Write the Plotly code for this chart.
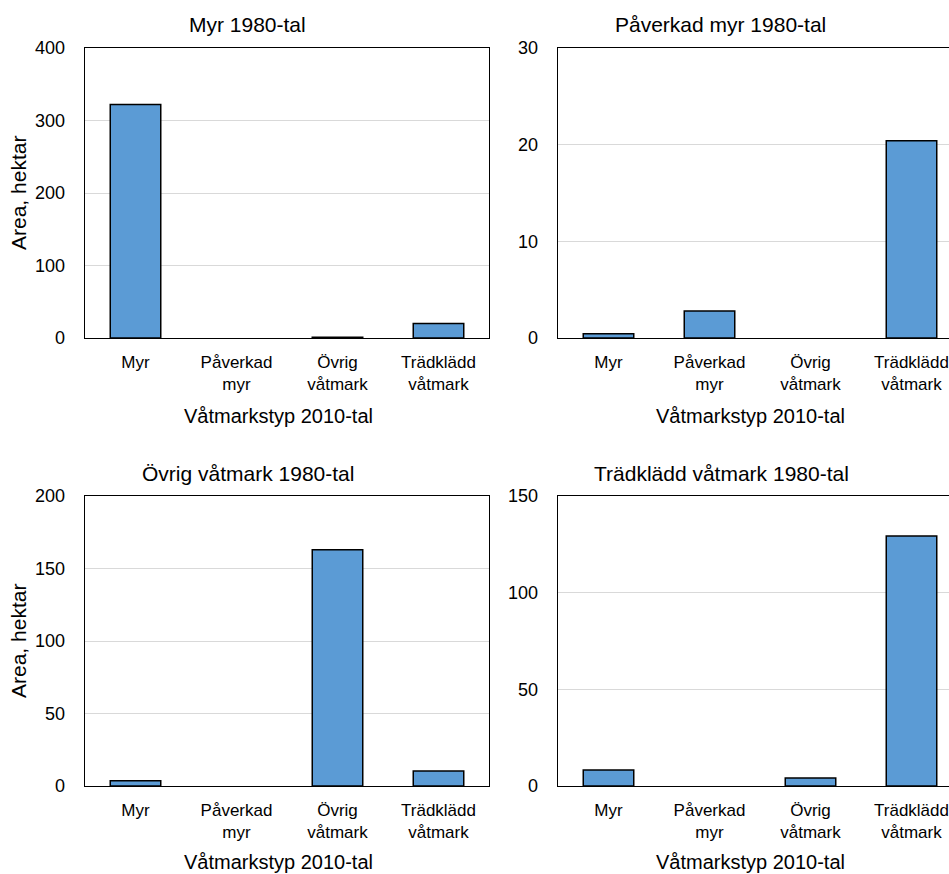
import plotly.graph_objects as go

categories = ["Myr", "Påverkad<br>myr", "Övrig<br>våtmark", "Trädklädd<br>våtmark"]
titles = ["Myr 1980-tal", "Påverkad myr 1980-tal", "Övrig våtmark 1980-tal", "Trädklädd våtmark 1980-tal"]
myr_1980 = [322, 0, 1, 20]
paverkad_myr_1980 = [0.45, 2.8, 0, 20.4]
ovrig_vatmark_1980 = [3.7, 0, 163, 10.3]
tradkladd_vatmark_1980 = [8.3, 0, 4.1, 129.3]
y_max = [400, 30, 200, 150]
y_dtick = [100, 10, 50, 50]
x_title = "Våtmarkstyp 2010-tal"
y_title = "Area, hektar"

series = [myr_1980, paverkad_myr_1980, ovrig_vatmark_1980, tradkladd_vatmark_1980]

W, H = 949, 874
FONT = "Liberation Sans, Arial, sans-serif"

# pixel layout of the four plot areas: (left, right, top, bottom)
boxes = [(85, 489, 48, 338), (558, 949, 48, 338), (85, 489, 496, 786), (558, 949, 496, 786)]
cat_w = (489 - 85) / 4.0

fig = go.Figure()
layout = dict(
    width=W, height=H, margin=dict(l=0, r=0, t=0, b=0, autoexpand=False),
    paper_bgcolor="white", plot_bgcolor="white", showlegend=False,
    font=dict(family=FONT, color="#000000"),
)

annotations = []
for i, (vals, box) in enumerate(zip(series, boxes)):
    n = i + 1
    xa = "x" if n == 1 else f"x{n}"
    ya = "y" if n == 1 else f"y{n}"
    fig.add_trace(go.Bar(
        x=categories, y=[v if v != 0 else None for v in vals], xaxis=xa, yaxis=ya, width=0.5,
        marker=dict(color="#5b9bd5", line=dict(color="#000000", width=1.5)),
        hoverinfo="skip",
    ))
    l, r, t, b = box
    right_side = i % 2 == 1
    x_end = -0.5 + (r - l) / cat_w
    layout["xaxis" if n == 1 else f"xaxis{n}"] = dict(
        domain=[l / W, r / W], anchor=ya, range=[-0.5, x_end],
        type="category", showline=True, linecolor="#000000", linewidth=1.3,
        mirror=True, showgrid=False, ticks="", ticklabelstandoff=8,
        tickfont=dict(size=17, family=FONT), fixedrange=True, automargin=False,
    )
    layout["yaxis" if n == 1 else f"yaxis{n}"] = dict(
        domain=[1 - b / H, 1 - t / H], anchor=xa, range=[0, y_max[i]],
        dtick=y_dtick[i], tick0=0, showline=True, linecolor="#000000", linewidth=1.3,
        mirror=not right_side, showgrid=True, gridcolor="#d9d9d9", gridwidth=1,
        zeroline=False, ticks="", ticklabelstandoff=15,
        tickfont=dict(size=18, family=FONT), fixedrange=True, automargin=False,
    )

title_pos = [(247, 24), (720, 24), (248, 473), (721, 473)]
xt_pos = [(278, 416), (750, 416), (278, 862), (750, 862)]
for i in range(4):
    tx, ty = title_pos[i]
    annotations.append(dict(text=titles[i], x=tx / W, y=1 - ty / H, xref="paper", yref="paper",
                            xanchor="center", yanchor="middle", showarrow=False,
                            font=dict(size=21, family=FONT)))
    ax, ay = xt_pos[i]
    annotations.append(dict(text=x_title, x=ax / W, y=1 - ay / H, xref="paper", yref="paper",
                            xanchor="center", yanchor="middle", showarrow=False,
                            font=dict(size=20, family=FONT)))
for yy in (193, 641):
    annotations.append(dict(text=y_title, x=18 / W, y=1 - yy / H, xref="paper", yref="paper",
                            xanchor="center", yanchor="middle", textangle=-90, showarrow=False,
                            font=dict(size=21, family=FONT)))

layout["annotations"] = annotations
fig.update_layout(**layout)
fig.write_html("out.html", config={"displayModeBar": False, "staticPlot": True},
               post_script="document.body.style.margin='0';document.body.style.overflow='hidden';")
